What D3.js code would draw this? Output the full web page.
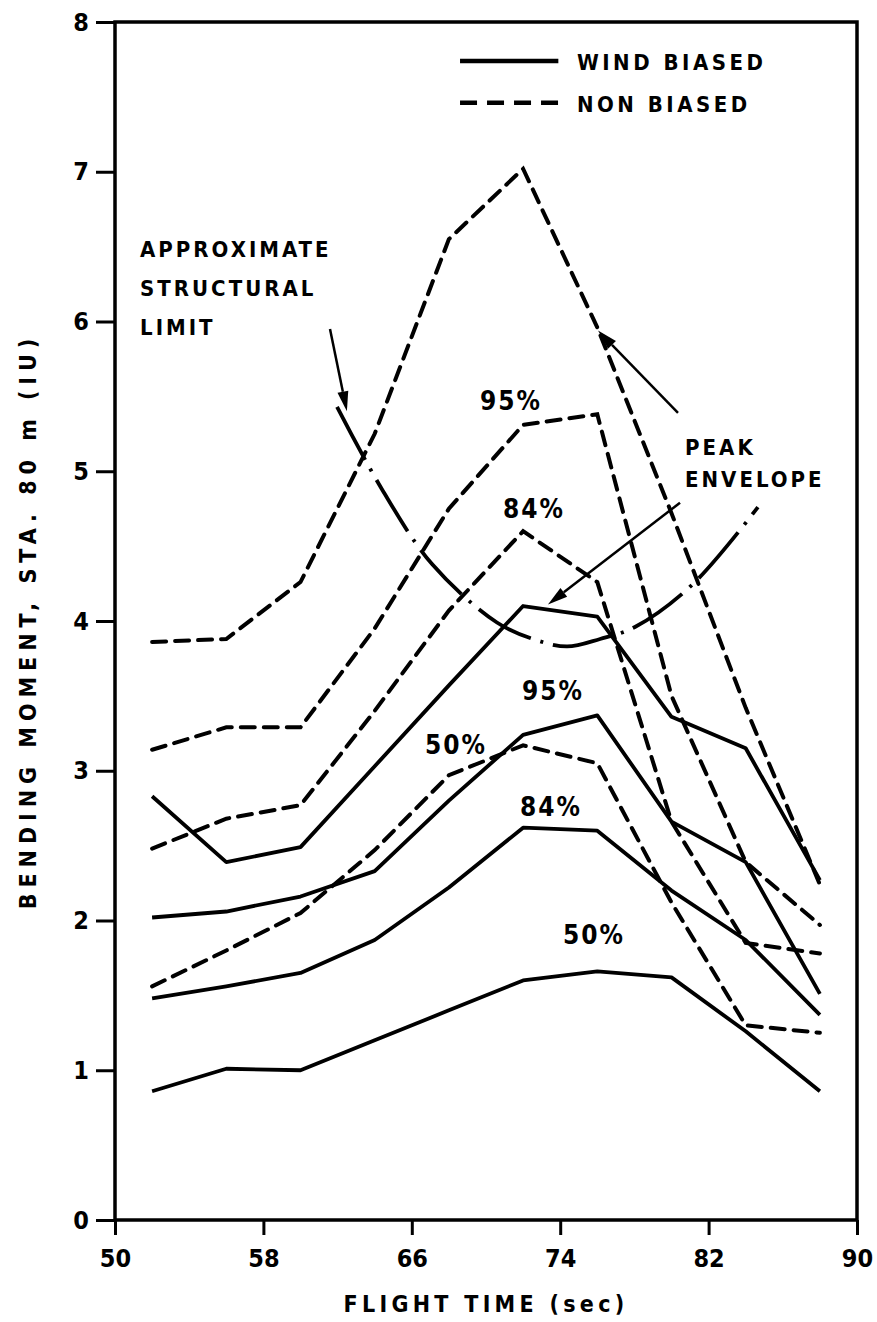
<!DOCTYPE html>
<html>
<head>
<meta charset="utf-8">
<title>Bending moment vs flight time</title>
<style>
  body { margin: 0; background: #fff; }
  text { font-family: "DejaVu Sans Condensed", "Liberation Sans Narrow", "DejaVu Sans", sans-serif; font-weight: bold; fill: #000; }
</style>
</head>
<body>
<script src="https://cdn.jsdelivr.net/npm/d3@7"></script>
<script>
// flight time (sec) of each plotted point
var time = [52, 56, 60, 64, 68, 72, 76, 80, 84, 88];

// wind biased (solid)
var windPeak = [2.83, 2.39, 2.49, 3.03, 3.57, 4.10, 4.03, 3.36, 3.15, 2.27];
var wind95   = [2.02, 2.06, 2.16, 2.33, 2.80, 3.24, 3.37, 2.66, 2.39, 1.51];
var wind84   = [1.48, 1.56, 1.65, 1.87, 2.22, 2.62, 2.60, 2.20, 1.87, 1.37];
var wind50   = [0.86, 1.01, 1.00, 1.20, 1.40, 1.60, 1.66, 1.62, 1.26, 0.86];

// non biased (dashed)
var nonPeak = [3.86, 3.88, 4.26, 5.25, 6.55, 7.02, 5.96, 4.72, 3.42, 2.24];
var non95   = [3.14, 3.29, 3.29, 3.95, 4.75, 5.31, 5.38, 3.50, 2.39, 1.97];
var non84   = [2.48, 2.68, 2.77, 3.40, 4.07, 4.60, 4.26, 2.66, 1.85, 1.78];
var non50   = [1.56, 1.80, 2.05, 2.47, 2.97, 3.17, 3.05, 2.12, 1.30, 1.25];

// approximate structural limit (dash-dot curve)
var limitTime  = [61.97, 64.39, 67.09, 70.59, 72.53, 74.37, 76.15, 78.03, 81.10, 84.66];
var limitValue = [5.43, 4.88, 4.38, 3.99, 3.88, 3.83, 3.88, 3.96, 4.24, 4.76];

var xTicks = [50, 58, 66, 74, 82, 90];
var yTicks = [0, 1, 2, 3, 4, 5, 6, 7, 8];

// percent labels [time, value, text]
var pctLabels = [
  [69.68, 5.41, '95%'], [70.92, 4.69, '84%'], [66.71, 3.11, '50%'],
  [71.94, 3.47, '95%'], [71.83, 2.70, '84%'], [74.15, 1.84, '50%']
];

var W = 877, H = 1322;
var svg = d3.select('body').append('svg').attr('width', W).attr('height', H);

var x = d3.scaleLinear().domain([50, 90]).range([115, 857]);
var y = d3.scaleLinear().domain([0, 8]).range([1220, 22]);

// axes
var xAxis = svg.append('g').attr('transform', 'translate(0,' + y(0) + ')')
  .call(d3.axisBottom(x).tickValues(xTicks).tickSize(15).tickPadding(14));
var yAxis = svg.append('g').attr('transform', 'translate(' + x(50) + ',0)')
  .call(d3.axisLeft(y).tickValues(yTicks).tickSize(19).tickPadding(7));

[xAxis, yAxis].forEach(function(a) {
  a.select('.domain').remove();
  a.selectAll('line').attr('stroke', '#000').attr('stroke-width', 3);
  a.selectAll('text').style('font-size', '25px');
});

// frame
svg.append('rect')
  .attr('x', x(50)).attr('y', y(8))
  .attr('width', x(90) - x(50)).attr('height', y(0) - y(8))
  .attr('fill', 'none').attr('stroke', '#000').attr('stroke-width', 3.5);

// axis titles
svg.append('text')
  .attr('x', (x(50) + x(90)) / 2).attr('y', y(0) + 92)
  .attr('text-anchor', 'middle')
  .style('font-size', '23px').style('letter-spacing', '4.3px')
  .text('FLIGHT TIME  (sec)');

svg.append('text')
  .attr('transform', 'translate(36,' + (y(0) + y(8)) / 2 + ') rotate(-90)')
  .attr('text-anchor', 'middle')
  .style('font-size', '23px').style('letter-spacing', '6px')
  .text('BENDING  MOMENT,  STA. 80 m  (IU)');

// curves
var line = d3.line()
  .x(function(d) { return x(d[0]); })
  .y(function(d) { return y(d[1]); });

function series(vals) { return time.map(function(t, i) { return [t, vals[i]]; }); }

[windPeak, wind95, wind84, wind50].forEach(function(v) {
  svg.append('path').attr('d', line(series(v)))
    .attr('fill', 'none').attr('stroke', '#000').attr('stroke-width', 3.8)
    .attr('stroke-linejoin', 'round');
});

[nonPeak, non95, non84, non50].forEach(function(v) {
  svg.append('path').attr('d', line(series(v)))
    .attr('fill', 'none').attr('stroke', '#000').attr('stroke-width', 4)
    .attr('stroke-dasharray', '14,9').attr('stroke-linecap', 'round');
});

// structural limit
var limitLine = d3.line().curve(d3.curveCatmullRom)
  .x(function(d) { return x(d[0]); })
  .y(function(d) { return y(d[1]); });
svg.append('path')
  .attr('d', limitLine(limitTime.map(function(t, i) { return [t, limitValue[i]]; })))
  .attr('fill', 'none').attr('stroke', '#000').attr('stroke-width', 3.8)
  .attr('stroke-dasharray', '60,10,3,10');

// percent labels
svg.selectAll('.pct').data(pctLabels).enter().append('text')
  .attr('x', function(d) { return x(d[0]); })
  .attr('y', function(d) { return y(d[1]); })
  .style('font-size', '26px').style('letter-spacing', '2px')
  .text(function(d) { return d[2]; });

// annotations
function textBlock(t, v, lines, step) {
  lines.forEach(function(s, i) {
    svg.append('text').attr('x', x(t)).attr('y', y(v) + i * step)
      .style('font-size', '22px').style('letter-spacing', '3px').text(s);
  });
}
textBlock(51.35, 6.43, ['APPROXIMATE', 'STRUCTURAL', 'LIMIT'], 39);
textBlock(80.73, 5.11, ['PEAK', 'ENVELOPE'], 32);

// arrows [fromT, fromV, toT, toV]
var arrows = [[61.59, 5.95, 62.50, 5.40], [80.35, 5.39, 76.04, 5.94], [80.46, 4.79, 73.34, 4.11]];
arrows.forEach(function(a) {
  var x1 = x(a[0]), y1 = y(a[1]), x2 = x(a[2]), y2 = y(a[3]);
  var ang = Math.atan2(y2 - y1, x2 - x1), len = 20, half = 5.5;
  var bx = x2 - len * Math.cos(ang), by = y2 - len * Math.sin(ang);
  svg.append('line').attr('x1', x1).attr('y1', y1).attr('x2', bx).attr('y2', by)
    .attr('stroke', '#000').attr('stroke-width', 2.5);
  svg.append('path')
    .attr('d', 'M' + x2 + ',' + y2 +
      'L' + (bx + half * Math.sin(ang)) + ',' + (by - half * Math.cos(ang)) +
      'L' + (bx - half * Math.sin(ang)) + ',' + (by + half * Math.cos(ang)) + 'Z')
    .attr('fill', '#000');
});

// legend
var legend = [['WIND BIASED', null, 7.74], ['NON BIASED', '17,10', 7.46]];
legend.forEach(function(l) {
  svg.append('line').attr('x1', x(68.6)).attr('x2', x(73.9))
    .attr('y1', y(l[2])).attr('y2', y(l[2]))
    .attr('stroke', '#000').attr('stroke-width', 4.5)
    .attr('stroke-dasharray', l[1]);
  svg.append('text').attr('x', x(74.9)).attr('y', y(l[2]) + 9)
    .style('font-size', '22px').style('letter-spacing', '3.5px').text(l[0]);
});
</script>
</body>
</html>
